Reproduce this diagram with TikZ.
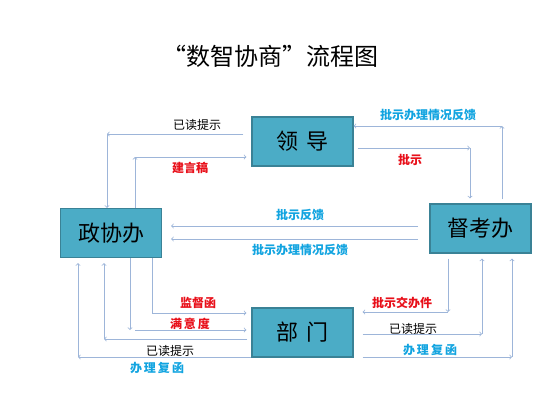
\documentclass[tikz,border=0pt]{standalone}
\usepackage{fontspec}
\newfontfamily\cjk{Noto Sans CJK SC}
\usetikzlibrary{arrows}

\begin{document}
\begin{tikzpicture}[x=1pt,y=-1pt,
    box/.style={draw=boxline, line width=1.2pt, fill=boxfill, minimum width=101pt, minimum height=49pt, font=\cjk\fontsize{22}{24}\selectfont},
    link/.style={draw=linkcol, line width=0.8pt},
    redlab/.style={text=labred, font=\cjk\bfseries\fontsize{12}{14}\selectfont},
    bluelab/.style={text=labblue, font=\cjk\bfseries\fontsize{12}{14}\selectfont},
    blacklab/.style={text=black, font=\cjk\fontsize{12}{14}\selectfont}]

        \definecolor{boxfill}{HTML}{4BACC6}
        \definecolor{boxline}{HTML}{3A8296}
        \definecolor{linkcol}{HTML}{9DB5D9}
        \definecolor{labred}{HTML}{E8101A}
        \definecolor{labblue}{HTML}{12A4E0}

        \useasboundingbox (0,0) rectangle (554,408);

        % Title
        \node[font=\cjk\fontsize{24}{28}\selectfont] (title) at (270,56) {“数智协商”流程图};

        % The four offices
        \node[box] (lead) at (302.5,141.5) {领\,\,导};
        \node[box] (zxb) at (111,233) {政协办};
        \node[box] (dkb) at (480.5,228.5) {督考办};
        \node[box] (bm) at (302.5,332.5) {部\,\,门};

        % Corners of the elbow connectors
        \coordinate (rd1) at (107,134);
        \coordinate (jy) at (135,157);
        \coordinate (fk1) at (502,126);
        \coordinate (ps) at (470,148);
        \coordinate (fk2) at (418,226);
        \coordinate (fk3) at (418,239);
        \coordinate (jd) at (152,313);
        \coordinate (myd) at (130,330);
        \coordinate (rd2) at (104,339);
        \coordinate (bl1) at (78,357);
        \coordinate (jb) at (448,312);
        \coordinate (rd3) at (482,334);
        \coordinate (bl2) at (512,357);

        % Leader <-> CPPCC office
        \draw[link,->,shorten <=8pt] (lead.west |- rd1) -- (rd1);
        \draw[link,->] (rd1) -- (rd1 |- zxb.north);
        \draw[link,->] (jy |- zxb.north) -- (jy);
        \draw[link,->,shorten >=5pt] (jy) -- (lead.west |- jy);
        \node[blacklab] (l1) at (197,125) {已读提示};
        \node[redlab] (l2) at (190,168) {建言稿};

        % Leader <-> supervision office
        \draw[link,->,shorten <=4pt] (fk1 |- dkb.north) -- (fk1);
        \draw[link,->] (fk1) -- (lead.east |- fk1);
        \draw[link,->,shorten <=4pt] (lead.east |- ps) -- (ps);
        \draw[link,->,shorten >=5pt] (ps) -- (ps |- dkb.north);
        \node[bluelab] (l3) at (428,115) {批示办理情况反馈};
        \node[redlab] (l4) at (410,160) {批示};

        % Supervision office -> CPPCC office
        \draw[link,->,shorten >=9pt] (fk2) -- (zxb.east |- fk2);
        \draw[link,->,shorten >=9pt] (fk3) -- (zxb.east |- fk3);
        \node[bluelab] (l5) at (300,215) {批示反馈};
        \node[bluelab] (l6) at (300,250) {批示办理情况反馈};

        % CPPCC office <-> departments
        \draw[link,->,shorten >=5pt] (jd |- zxb.south) -- (jd) -- (bm.west |- jd);
        \draw[link,->] (myd |- zxb.south) -- (myd);
        \draw[link,->,shorten <=5pt,shorten >=5pt] (myd) -- (bm.west |- myd);
        \draw[link,->,shorten <=4pt] (bm.west |- rd2) -- (rd2);
        \draw[link,->,shorten >=5pt] (rd2) -- (rd2 |- zxb.south);
        \draw[link,->] (bm.west |- bl1) -- (bl1);
        \draw[link,->,shorten >=5pt] (bl1) -- (bl1 |- zxb.south);
        \node[redlab] (l7) at (198,303) {监督函};
        \node[redlab] (l8) at (190,324) {满\,意\,度};
        \node[blacklab] (l9) at (170,351) {已读提示};
        \node[bluelab] (l10) at (157,368) {办\,理\,复\,函};

        % Supervision office <-> departments
        \draw[link,->,shorten <=5pt] (jb |- dkb.south) -- (jb);
        \draw[link,->,shorten >=9pt] (jb) -- (bm.east |- jb);
        \draw[link,->,shorten <=9pt] (bm.east |- rd3) -- (rd3);
        \draw[link,->,shorten >=5pt] (rd3) -- (rd3 |- dkb.south);
        \draw[link,->,shorten <=9pt] (bm.east |- bl2) -- (bl2);
        \draw[link,->,shorten >=5pt] (bl2) -- (bl2 |- dkb.south);
        \node[redlab] (l11) at (402,303) {批示交办件};
        \node[blacklab] (l12) at (413,329) {已读提示};
        \node[bluelab] (l13) at (430,350) {办\,理\,复\,函};

    \end{tikzpicture}
\end{document}
